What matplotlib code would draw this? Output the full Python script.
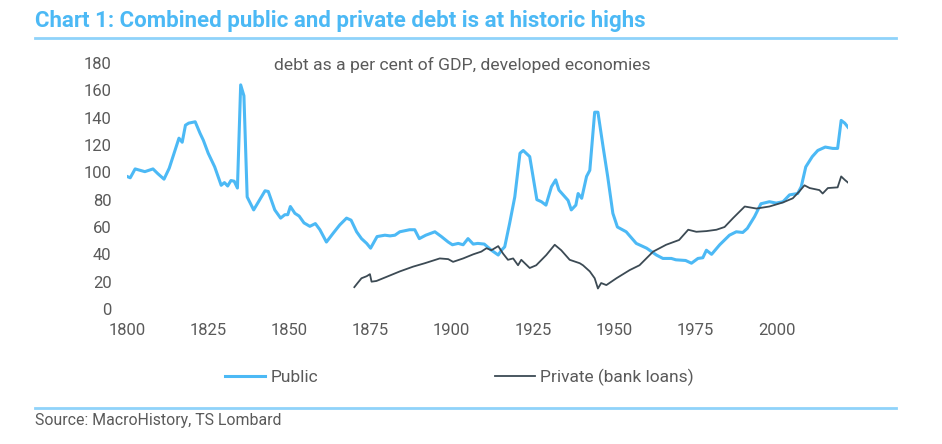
import matplotlib
matplotlib.use('Agg')
import matplotlib.pyplot as plt
from matplotlib.lines import Line2D

plt.rcParams['font.family'] = ['Roboto', 'DejaVu Sans']

# public debt, % of GDP
public_years = [1800, 1801, 1802.5, 1804, 1805.5, 1808, 1809.5, 1811.4, 1813, 1814.5,
                1816, 1817, 1818, 1819, 1821, 1822.5, 1823.5, 1825, 1827, 1829,
                1830, 1831, 1832, 1833, 1834, 1835, 1836, 1837, 1839, 1840.5,
                1842.5, 1843.5, 1845.5, 1847.3, 1848.6, 1849.5, 1850.3, 1851.7, 1853, 1854.5,
                1856.3, 1858, 1859.4, 1861.4, 1863.5, 1865.5, 1867.6, 1869, 1870.7, 1872.2,
                1873.8, 1875, 1877, 1879.4, 1881, 1882.5, 1884, 1887, 1888.6, 1890,
                1892, 1894.8, 1896.8, 1898.9, 1900.2, 1902, 1903.5, 1905, 1906.6, 1908,
                1910, 1912.2, 1914.3, 1915.3, 1916.3, 1917.8, 1919.4, 1921, 1922, 1924,
                1925, 1926.2, 1927.6, 1929, 1930.7, 1932, 1933, 1934.3, 1935.8, 1936.8,
                1938.2, 1938.9, 1940, 1941.5, 1942.5, 1944, 1945, 1946.6, 1948, 1949.6,
                1951, 1953.7, 1956.8, 1960, 1963, 1965, 1967.6, 1969, 1972, 1973.8,
                1975.8, 1977.3, 1978.4, 1980, 1982.5, 1985.5, 1987.6, 1989.6, 1991, 1993.2,
                1995.2, 1997.8, 1999.9, 2002, 2004, 2006.5, 2007.6, 2009, 2011, 2012.7,
                2015, 2017.3, 2018.8, 2019.9, 2021, 2022]
public_vals = [97, 96, 102.5, 101.5, 100.5, 102.5, 99, 95, 103, 114,
               125, 122, 134.5, 136, 137, 128.5, 123.5, 114, 104, 90.5,
               92.5, 90, 94, 93.5, 88.5, 164, 156, 82, 72.5, 78.5,
               86.5, 86, 72.5, 66.5, 69, 69, 75, 70, 68, 63,
               60.5, 62.5, 58, 49, 55.5, 61.5, 66.5, 65, 56.5, 51.5,
               48, 44.5, 53, 54, 53.5, 54, 56.5, 58, 58, 51.5,
               54, 56.5, 53, 49, 47, 48, 47, 51.5, 47.5, 48,
               47.5, 43, 39.5, 43, 45.5, 62.5, 82, 114, 116, 111.5,
               97, 80, 78.5, 76, 89.5, 94.5, 87, 83.5, 79.5, 72.5,
               76, 84.5, 81, 97, 101.5, 144, 144, 118.5, 97, 70,
               60, 56.5, 48, 44.5, 39.5, 37, 37, 36, 35.5, 33.5,
               37, 37.5, 43, 40, 47, 54, 56.5, 56, 59, 67.5,
               77, 78.5, 77.5, 78.5, 83.5, 84.5, 89.5, 104, 111.5, 116,
               118.5, 117.5, 117.5, 138, 136, 133]

# private debt (bank loans), % of GDP
private_years = [1870, 1871, 1872.2, 1873.8, 1874.8, 1875.3, 1876.8, 1879.9, 1884, 1888.1,
                 1891.7, 1896.3, 1898.9, 1900.4, 1903.5, 1906.6, 1909.1, 1910.7, 1912.2, 1914.3,
                 1915.8, 1917.3, 1918.9, 1920.4, 1921.4, 1924, 1926, 1929.1, 1931.7, 1933.7,
                 1936.3, 1939.4, 1940.4, 1942.5, 1944, 1945, 1946, 1947.6, 1950.7, 1954.8,
                 1957.8, 1962, 1966, 1970, 1972.8, 1975.3, 1978.4, 1981.5, 1984, 1986.6,
                 1990.2, 1993.8, 1997.8, 2002, 2005, 2007, 2008.6, 2010.2, 2013.2, 2014.2,
                 2015.8, 2018.8, 2019.9, 2021, 2022]
private_vals = [16, 19, 22.5, 24, 25.5, 20, 20.5, 23.5, 27.5, 31,
                33.5, 37, 36.5, 34.5, 37, 40, 42, 44.5, 43, 46,
                40.5, 36, 37, 32, 36, 30, 32, 39.5, 47, 43,
                36, 33.5, 32, 27.5, 22.5, 15, 19, 17.5, 22.5, 28.5,
                32, 42, 47, 50.5, 58, 56.5, 57, 58, 60, 66.5,
                75, 73.5, 75, 78, 81, 86, 90.5, 88.5, 87, 84.5,
                88.5, 89, 97, 94.5, 92.5]

x_ticks = [1800, 1825, 1850, 1875, 1900, 1925, 1950, 1975, 2000]
y_ticks = [0, 20, 40, 60, 80, 100, 120, 140, 160, 180]

blue = '#4cb9f5'
dark = '#3c4a54'
grey = '#5a5a5a'
rule = '#8fd3fa'

fig = plt.figure(figsize=(9.42, 4.44), dpi=100)
ax = fig.add_axes([127 / 942, 1 - 309 / 444, (848 - 127) / 942, (309 - 63) / 444])

ax.plot(public_years, public_vals, color=blue, lw=2.2, label='Public', solid_joinstyle='round')
ax.plot(private_years, private_vals, color=dark, lw=1.3, label='Private (bank loans)')

ax.set_xlim(1800, 2022)
ax.set_ylim(0, 180)
ax.set_xticks(x_ticks)
ax.set_yticks(y_ticks)
ax.tick_params(length=0, labelsize=12, colors=grey)
ax.tick_params(axis='y', pad=11)
ax.tick_params(axis='x', pad=10)
for s in ax.spines.values():
    s.set_visible(False)

fig.text(35 / 942, 1 - 27 / 444, 'Chart 1: Combined public and private debt is at historic highs',
         color=blue, fontsize=16, fontweight='bold', ha='left', va='baseline')
fig.add_artist(Line2D([35 / 942, 896 / 942], [1 - 38 / 444] * 2, color=rule, lw=2))
fig.add_artist(Line2D([35 / 942, 896 / 942], [1 - 408 / 444] * 2, color=rule, lw=2))
fig.text(462 / 942, 1 - 65 / 444, 'debt as a per cent of GDP, developed economies',
         color=grey, fontsize=12.6, ha='center', va='center')
fig.text(35 / 942, 1 - 425 / 444, 'Source: MacroHistory, TS Lombard',
         color=grey, fontsize=11.4, ha='left', va='baseline')

fig.legend(loc='center left', bbox_to_anchor=(225 / 942, 1 - 377 / 444), ncol=2,
           frameon=False, fontsize=12.5, labelcolor=grey, handlelength=2.3,
           handletextpad=0.3, columnspacing=10.2, borderpad=0, borderaxespad=0)

fig.savefig('out.png', dpi=100)
